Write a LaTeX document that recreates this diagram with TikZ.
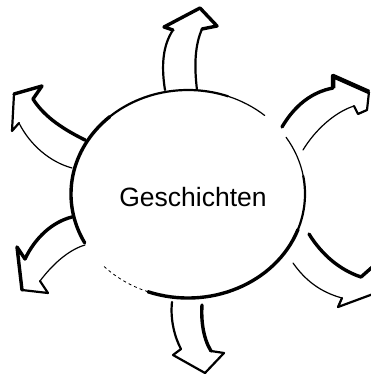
\documentclass[tikz,border=0pt]{standalone}
\usepackage{fontspec}
\setmainfont{Liberation Sans}
\usetikzlibrary{calc}

\tikzset{
  thinedge/.style={line width=1.2pt, line cap=round, line join=round},
  midedge/.style={line width=2.2pt, line cap=round, line join=round},
  thickedge/.style={line width=3.4pt, line cap=round, line join=round},
}

\begin{document}
\begin{tikzpicture}[x=1pt, y=-1pt]
  % Frame (pixel grid, y pointing down)
  \fill[white] (0,0) rectangle (371,375);
  \useasboundingbox (0,0) rectangle (371,375);
  \clip (0,0) rectangle (371,375);

  % Ellipse, drawn in pieces of uneven weight
  \coordinate (ctr) at (188,194);
  \newcommand{\ringarc}[3]{
    \draw[#3] (ctr) ++(#1:117 and 104) arc[start angle=#1, end angle=#2, x radius=117, y radius=104];
  }
  \ringarc{152}{228}{thickedge}
  \ringarc{228}{290}{midedge}
  \ringarc{290}{311}{thinedge}
  \ringarc{327}{350}{thinedge}
  \ringarc{350}{380}{midedge}
  \ringarc{20}{110}{thickedge}
  \ringarc{110}{136}{line width=0.8pt, dashed}

  \node[font=\fontsize{26.5}{30}\selectfont, anchor=base] (story) at (193,206) {Geschichten};

  % Top arrow
  \draw[midedge] (165,90) .. controls (161,65) and (163,45) .. (173,30);
  \draw[thickedge] (173,30) -- (164,27) -- (200,8) -- (217,26) -- (202,29);
  \draw[midedge] (202,29) .. controls (195,45) and (194,65) .. (197,90);

  % Upper right arrow
  \draw[thickedge] (282,127) .. controls (295,105) and (312,92) .. (333,88);
  \draw[line width=4.5pt, line join=round] (333,88) -- (333,76) -- (369,92);
  \draw[midedge] (369,92) -- (367,110) -- (358,114) -- (354,106);
  \draw[thinedge] (354,106) .. controls (335,112) and (315,130) .. (303,150);

  % Lower right arrow (head runs off the page)
  \draw[thickedge] (309,234) .. controls (322,255) and (340,270) .. (361,277) -- (378,262);
  \draw[thinedge] (293,263) .. controls (305,280) and (320,292) .. (342,298);
  \draw[midedge] (342,298) -- (338,307) -- (392,287);

  % Upper left arrow
  \draw[thickedge] (85,140) .. controls (65,130) and (45,118) .. (33,99);
  \draw[thickedge] (33,99) -- (42,86) -- (14,94);
  \draw[midedge] (14,94) -- (12,131) -- (19,123);
  \draw[thinedge] (19,123) .. controls (30,145) and (50,162) .. (72,168);

  % Lower left arrow
  \draw[thickedge] (72,217) .. controls (52,222) and (35,238) .. (25,259);
  \draw[thickedge] (25,259) -- (17,247) -- (22,290);
  \draw[midedge] (22,290) -- (48,293) -- (40,281);
  \draw[thinedge] (40,281) .. controls (52,265) and (68,250) .. (85,245);

  % Bottom arrow
  \draw[midedge] (172,302) .. controls (170,320) and (175,338) .. (181,349);
  \draw[midedge] (181,349) -- (173,355) -- (205,373) -- (224,353) -- (211,351);
  \draw[thickedge] (211,351) .. controls (203,338) and (201,320) .. (202,305);
\end{tikzpicture}
\end{document}
